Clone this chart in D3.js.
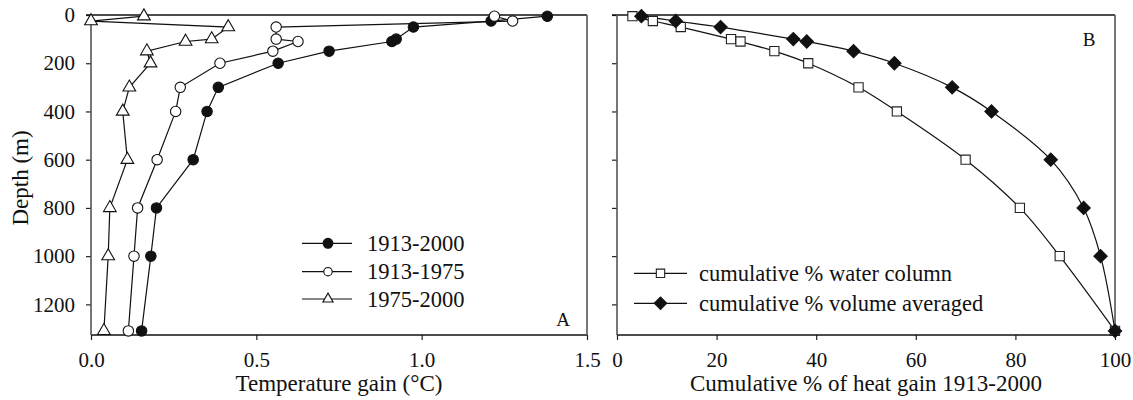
<!DOCTYPE html>
<html><head><meta charset="utf-8">
<script src="https://cdn.jsdelivr.net/npm/d3@7"></script>
<style>body{margin:0;background:#fff} text{font-family:"Liberation Serif","Times New Roman",serif;fill:#111}</style>
</head><body><svg id="c" width="1133" height="400"></svg>
<script>
const depths = [5,25,50,100,110,150,200,300,400,600,800,1000,1310];
const gain1913_2000 = [1.38,1.21,0.975,0.923,0.91,0.72,0.566,0.385,0.351,0.309,0.198,0.181,0.153];
const gain1913_1975 = [1.22,1.275,0.56,0.56,0.626,0.55,0.39,0.27,0.256,0.2,0.141,0.13,0.113];
const gain1975_2000 = [0.16,0.0,0.415,0.365,0.286,0.169,0.18,0.116,0.096,0.11,0.057,0.052,0.039];
const cumWater = [3.1,7.2,12.8,22.9,24.8,31.6,38.4,48.5,56.2,70,80.9,88.9,100];
const cumVolume = [4.9,11.8,20.8,35.4,38.1,47.5,55.7,67.3,75.2,87.1,93.7,97.1,100];
const depthTicks = [0,200,400,600,800,1000,1200];
const gainTicks = [0,0.5,1.0,1.5];
const pctTicks = [0,20,40,60,80,100];
const seriesA = ["1913-2000","1913-1975","1975-2000"];
const seriesB = ["cumulative % water column","cumulative % volume averaged"];

const svg = d3.select("#c");
const yTop = 15, yBot = 335;
const y = d3.scaleLinear().domain([0,1327]).range([yTop,yBot]);

function panel(x0,x1,xDomain,xTicks,fmt,showY,xTitle,letter,letterX){
  const x = d3.scaleLinear().domain(xDomain).range([x0,x1]);
  const g = svg.append("g");
  const ax = g.append("g").attr("transform",`translate(0,${yBot})`)
    .call(d3.axisBottom(x).tickValues(xTicks).tickFormat(fmt).tickSize(5).tickPadding(12).tickSizeOuter(0));
  ax.selectAll("text").attr("font-size",21).attr("fill","#111");
  ax.select(".domain").remove();
  const ay = g.append("g").attr("transform",`translate(${x0},0)`)
    .call(d3.axisLeft(y).tickValues(depthTicks).tickFormat(showY?d3.format("d"):"").tickSize(5).tickPadding(11).tickSizeOuter(0));
  ay.selectAll("text").attr("font-size",21).attr("fill","#111");
  ay.select(".domain").remove();
  g.selectAll(".tick line").attr("stroke","#222").attr("stroke-width",1.2);
  g.append("line").attr("x1",x0-5).attr("x2",x1).attr("y1",yTop).attr("y2",yTop).attr("stroke","#111").attr("stroke-width",1.3);
  g.append("line").attr("x1",x0).attr("x2",x1).attr("y1",yBot).attr("y2",yBot).attr("stroke","#111").attr("stroke-width",1.3);
  g.append("line").attr("x1",x0).attr("x2",x0).attr("y1",yTop).attr("y2",yBot).attr("stroke","#555").attr("stroke-width",1.6);
  g.append("line").attr("x1",x1).attr("x2",x1).attr("y1",yTop).attr("y2",yBot).attr("stroke","#555").attr("stroke-width",1.6);
  g.append("text").attr("x",(x0+x1)/2).attr("y",391).attr("text-anchor","middle").attr("font-size",23).text(xTitle);
  g.append("text").attr("x",letterX).attr("y",letter==="A"?326:46).attr("text-anchor","middle").attr("font-size",19).text(letter);
  return {x,g};
}

const A = panel(91,587,[0,1.5],gainTicks,d3.format(".1f"),true,"Temperature gain (°C)","A",563);
svg.append("text").attr("transform","translate(28,178) rotate(-90)").attr("text-anchor","middle").attr("font-size",23).text("Depth (m)");

const lineA = d3.line().x(d=>A.x(d[0])).y(d=>y(d[1]));
const dataA = [gain1913_2000,gain1913_1975,gain1975_2000].map(s=>s.map((v,i)=>[v,depths[i]]));
const symA = [
  {type:d3.symbolCircle,size:85,fill:"#111"},
  {type:d3.symbolCircle,size:85,fill:"#fff"},
  {type:d3.symbolTriangle,size:70,fill:"#fff"}
];
dataA.forEach((s)=>{
  A.g.append("path").attr("d",lineA(s)).attr("fill","none").attr("stroke","#111").attr("stroke-width",1.2);
});
dataA.forEach((s,k)=>{
  A.g.selectAll(null).data(s).enter().append("path")
    .attr("transform",d=>`translate(${A.x(d[0])},${y(d[1])})`)
    .attr("d",d3.symbol().type(symA[k].type).size(symA[k].size))
    .attr("fill",symA[k].fill).attr("stroke","#111").attr("stroke-width",1.1);
});
const legA = [243.3,271.7,299];
const legSymA = [
  {type:d3.symbolCircle,size:75,fill:"#111"},
  {type:d3.symbolCircle,size:55,fill:"#fff"},
  {type:d3.symbolTriangle,size:45,fill:"#fff"}
];
seriesA.forEach((name,k)=>{
  const yy = legA[k];
  svg.append("line").attr("x1",302).attr("x2",352).attr("y1",yy).attr("y2",yy).attr("stroke","#111").attr("stroke-width",1.2);
  svg.append("path").attr("transform",`translate(328,${yy})`).attr("d",d3.symbol().type(legSymA[k].type).size(legSymA[k].size))
    .attr("fill",legSymA[k].fill).attr("stroke","#111").attr("stroke-width",1.1);
  svg.append("text").attr("x",367).attr("y",yy+7.5).attr("font-size",22.5).text(name);
});

const B = panel(617,1115,[0,100],pctTicks,d3.format("d"),false,"Cumulative % of heat gain 1913-2000","B",1089);
const wData = cumWater.map((v,i)=>[v,depths[i]]);
const vData = cumVolume.map((v,i)=>[v,depths[i]]);
B.g.append("path").attr("d",d3.line().x(d=>B.x(d[0])).y(d=>y(d[1])).curve(d3.curveCatmullRom)(wData))
  .attr("fill","none").attr("stroke","#111").attr("stroke-width",1.2);
B.g.append("path").attr("d",d3.line().x(d=>B.x(d[0])).y(d=>y(d[1])).curve(d3.curveCatmullRom.alpha(0.5))(vData))
  .attr("fill","none").attr("stroke","#111").attr("stroke-width",1.2);
B.g.selectAll(null).data(wData).enter().append("path")
  .attr("transform",d=>`translate(${B.x(d[0])},${y(d[1])})`)
  .attr("d",d3.symbol().type(d3.symbolSquare).size(85))
  .attr("fill","#fff").attr("stroke","#222").attr("stroke-width",1.1);
B.g.selectAll(null).data(vData).enter().append("path")
  .attr("transform",d=>`translate(${B.x(d[0])},${y(d[1])}) rotate(45)`)
  .attr("d",d3.symbol().type(d3.symbolSquare).size(90))
  .attr("fill","#111").attr("stroke","#111").attr("stroke-width",1);
const legB = [273.3,303.3];
seriesB.forEach((name,k)=>{
  const yy = legB[k];
  svg.append("line").attr("x1",634).attr("x2",687).attr("y1",yy).attr("y2",yy).attr("stroke","#111").attr("stroke-width",1.2);
  if(k===0){
    svg.append("path").attr("transform",`translate(660.5,${yy})`).attr("d",d3.symbol().type(d3.symbolSquare).size(70))
      .attr("fill","#fff").attr("stroke","#222").attr("stroke-width",1.1);
  } else {
    svg.append("path").attr("transform",`translate(660.5,${yy}) rotate(45)`).attr("d",d3.symbol().type(d3.symbolSquare).size(80))
      .attr("fill","#111").attr("stroke","#111").attr("stroke-width",1);
  }
  svg.append("text").attr("x",699).attr("y",yy+7.5).attr("font-size",22.5).text(name);
});
</script></body></html>
